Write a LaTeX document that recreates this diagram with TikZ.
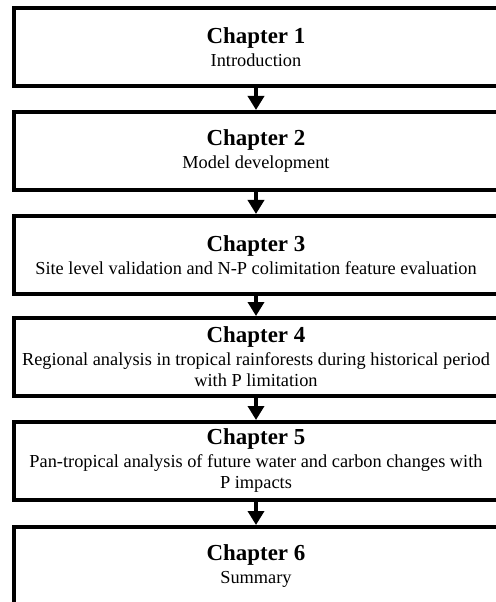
\documentclass[tikz,border=0pt]{standalone}
\usepackage{fontspec}
\setmainfont{Liberation Serif}
\usetikzlibrary{arrows.meta}
\newcommand{\chapfont}{\fontsize{23}{25}\selectfont\bfseries}
\newcommand{\subfont}{\fontsize{18.4}{21}\selectfont}
\tikzset{
  chapbox/.style={draw=black, line width=4bp, fill=white, minimum width=484bp,
    minimum height=77.5bp, inner sep=0pt, align=center, font=\subfont},
  flow/.style={line width=4bp, -{Triangle[width=16bp,length=14bp]}}
}
\begin{document}
\begin{tikzpicture}[x=1bp,y=-1bp]
\useasboundingbox (0,0) rectangle (496,602);
\clip (0,0) rectangle (496,602);
\fill[white] (0,0) rectangle (496,602);
\node[chapbox] (b1) at (256,47.25) {{\chapfont Chapter 1}\\[2bp]Introduction};
\node[chapbox] (b2) at (256,150.75) {{\chapfont Chapter 2}\\[2bp]Model development};
\node[chapbox] (b3) at (256,254.75) {{\chapfont Chapter 3}\\[2bp]Site level validation and N-P colimitation feature evaluation};
\node[chapbox] (b4) at (256,356.75) {{\chapfont Chapter 4}\\[2bp]Regional analysis in tropical rainforests during historical period\\with P limitation};
\node[chapbox] (b5) at (256,460.75) {{\chapfont Chapter 5}\\[2bp]Pan-tropical analysis of future water and carbon changes with\\P impacts};
\node[chapbox] (b6) at (256,565.75) {{\chapfont Chapter 6}\\[2bp]Summary};
\draw[flow] (b1.south) -- (b2.north);
\draw[flow] (b2.south) -- (b3.north);
\draw[flow] (b3.south) -- (b4.north);
\draw[flow] (b4.south) -- (b5.north);
\draw[flow] (b5.south) -- (b6.north);
\end{tikzpicture}
\end{document}
